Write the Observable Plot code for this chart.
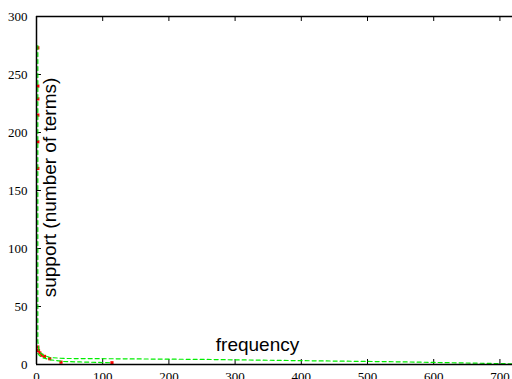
<!DOCTYPE html>
<html><head><meta charset="utf-8">
<script src="https://cdn.jsdelivr.net/npm/d3@7"></script>
<script src="https://cdn.jsdelivr.net/npm/@observablehq/plot@0.6"></script>
<style>html,body{margin:0;padding:0;background:#fff;overflow:hidden}svg{display:block}</style>
</head><body><div id="chart"></div>
<script>
const xTicks = [0,100,200,300,400,500,600,700];
const yTicks = [0,50,100,150,200,250,300];

const redFreq    = [2,2,2,2,2,2,2,3,5,8,12,20,37,114];
const redSupport = [273,240,229,215,192,169,15,12,10,8,7,5,2,1.5];

const greenAFreq    = [2,2,2,4,11,21,41,127,250,400,550,719];
const greenASupport = [275,100,20,11,7.8,6,5.2,4.9,4.4,3.3,2.3,0.6];

const greenBFreq    = [2,4,8,21,41,66,112];
const greenBSupport = [9.5,8,6,4,2.6,2.2,1.5];

const red = redFreq.map((f,i)=>({f, s: redSupport[i]}));
const gA = greenAFreq.map((f,i)=>({f, s: greenASupport[i]}));
const gB = greenBFreq.map((f,i)=>({f, s: greenBSupport[i]}));

const X0 = 0, X1 = 719, Y0 = 0, Y1 = 300;
const tickLenY = 4.3, tickLenX = 7.5;

const chart = Plot.plot({
  width: 512, height: 379,
  marginLeft: 36, marginRight: 0, marginTop: 16, marginBottom: 15,
  x: {domain: [X0, X1]},
  y: {domain: [Y0, Y1]},
  style: {background: "#fff", overflow: "visible", color: "#000"},
  marks: [
    Plot.axisX({ticks: xTicks, tickSize: 0, tickPadding: 7, fontFamily: "Liberation Serif", fontSize: 13, fill: "#000", label: null}),
    Plot.axisY({ticks: yTicks, tickSize: 0, tickPadding: 9, fontFamily: "Liberation Serif", fontSize: 13, fill: "#000", label: null}),
    Plot.ruleX(xTicks, {x: d=>d, y1: Y0, y2: Y0 + tickLenY, stroke: "#000", strokeWidth: 1}),
    Plot.ruleX(xTicks, {x: d=>d, y1: Y1, y2: Y1 - tickLenY, stroke: "#000", strokeWidth: 1}),
    Plot.ruleY(yTicks, {y: d=>d, x1: X0, x2: X0 + tickLenX, stroke: "#000", strokeWidth: 1}),
    Plot.dot(red, {x: "f", y: "s", symbol: "square", r: 1.8, fill: "#ff0000", stroke: null}),
    Plot.line(gA, {x: "f", y: "s", stroke: "#00ee00", strokeWidth: 1.2, strokeDasharray: "4,3"}),
    Plot.line(gB, {x: "f", y: "s", stroke: "#00ee00", strokeWidth: 1.2, strokeDasharray: "4,3"}),
    Plot.ruleX([X0], {stroke: "#000", strokeWidth: 1.5}),
    Plot.ruleY([Y0, Y1], {stroke: "#000", strokeWidth: 1.5}),
    Plot.text(["support (number of terms)"], {frameAnchor: "left", textAnchor: "middle", dx: 13, dy: -3, rotate: -90, fontFamily: "Liberation Sans", fontSize: 19, fill: "#000"}),
    Plot.text(["frequency"], {frameAnchor: "bottom", dx: -17, dy: -14, fontFamily: "Liberation Sans", fontSize: 19, fill: "#000"})
  ]
});
chart.querySelectorAll("[aria-label^='x-axis'] text, [aria-label^='y-axis'] text").forEach(t => t.style.fontFamily = "Liberation Serif");
document.getElementById("chart").append(chart);
</script>
</body></html>
